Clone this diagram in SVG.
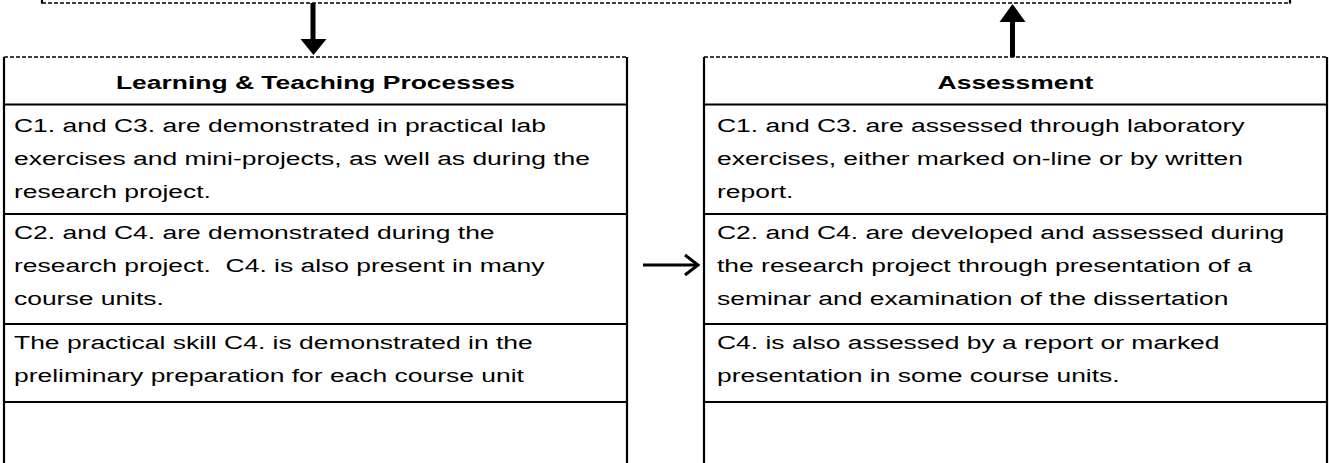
<svg xmlns="http://www.w3.org/2000/svg" width="1329" height="463" viewBox="0 0 1329 463">
<style>
.dash{fill:none;stroke:#000;stroke-width:1.3;stroke-dasharray:4 2}
.solid{fill:none;stroke:#000;stroke-width:2.2}
.t{font-family:"Liberation Sans",Arial,sans-serif;font-size:18px;fill:#000}
.h{font-family:"Liberation Sans",Arial,sans-serif;font-size:18px;font-weight:bold;fill:#000;text-anchor:middle}
</style>
<rect width="1329" height="463" fill="#fff"/>
<g id="top-box">
<line class="dash" x1="42" y1="3" x2="1290" y2="3"/>
<line class="solid" x1="42" y1="0" x2="42" y2="3.6" stroke-width="1.3"/>
<line class="solid" x1="1290" y1="0" x2="1290" y2="3.6" stroke-width="1.3"/>
</g>
<g id="learning-teaching">
<line class="dash" x1="4" y1="57" x2="627" y2="57"/>
<line class="solid" x1="4" y1="57" x2="4" y2="463"/>
<line class="solid" x1="627" y1="57" x2="627" y2="463"/>
<line class="solid" x1="4" y1="104.5" x2="627" y2="104.5"/>
<line class="solid" x1="4" y1="214" x2="627" y2="214"/>
<line class="solid" x1="4" y1="324" x2="627" y2="324"/>
<line class="solid" x1="4" y1="402" x2="627" y2="402"/>
<text class="h" transform="translate(315.5,89) scale(1.47,1)">Learning &amp; Teaching Processes</text>
<text class="t" transform="translate(14,132) scale(1.47,1)">C1. and C3. are demonstrated in practical lab</text>
<text class="t" transform="translate(14,165) scale(1.47,1)">exercises and mini-projects, as well as during the</text>
<text class="t" transform="translate(14,198) scale(1.47,1)">research project.</text>
<text class="t" transform="translate(14,239) scale(1.47,1)">C2. and C4. are demonstrated during the</text>
<text class="t" transform="translate(14,272) scale(1.47,1)" xml:space="preserve">research project.  C4. is also present in many</text>
<text class="t" transform="translate(14,305) scale(1.47,1)">course units.</text>
<text class="t" transform="translate(14,349) scale(1.47,1)">The practical skill C4. is demonstrated in the</text>
<text class="t" transform="translate(14,382) scale(1.47,1)">preliminary preparation for each course unit</text>
</g>
<g id="assessment">
<line class="dash" x1="704" y1="57" x2="1327" y2="57"/>
<line class="solid" x1="704" y1="57" x2="704" y2="463"/>
<line class="solid" x1="1327" y1="57" x2="1327" y2="463"/>
<line class="solid" x1="704" y1="104.5" x2="1327" y2="104.5"/>
<line class="solid" x1="704" y1="214" x2="1327" y2="214"/>
<line class="solid" x1="704" y1="324" x2="1327" y2="324"/>
<line class="solid" x1="704" y1="402" x2="1327" y2="402"/>
<text class="h" transform="translate(1015.5,89) scale(1.47,1)">Assessment</text>
<text class="t" transform="translate(717,132) scale(1.47,1)">C1. and C3. are assessed through laboratory</text>
<text class="t" transform="translate(717,165) scale(1.47,1)">exercises, either marked on-line or by written</text>
<text class="t" transform="translate(717,198) scale(1.47,1)">report.</text>
<text class="t" transform="translate(717,239) scale(1.47,1)">C2. and C4. are developed and assessed during</text>
<text class="t" transform="translate(717,272) scale(1.47,1)">the research project through presentation of a</text>
<text class="t" transform="translate(717,305) scale(1.47,1)">seminar and examination of the dissertation</text>
<text class="t" transform="translate(717,349) scale(1.47,1)">C4. is also assessed by a report or marked</text>
<text class="t" transform="translate(717,382) scale(1.47,1)">presentation in some course units.</text>
</g>
<g id="connectors">
<rect x="310.5" y="3" width="5" height="37" fill="#000"/>
<polygon points="300.5,39 326.5,39 313.5,55" fill="#000"/>
<rect x="1010" y="21" width="5" height="36" fill="#000"/>
<polygon points="999.5,22 1025.5,22 1012.5,4" fill="#000"/>
<line x1="643" y1="265" x2="696" y2="265" stroke="#000" stroke-width="3"/>
<polyline points="685,255 698,265 685,275" fill="none" stroke="#000" stroke-width="3"/>
</g>
</svg>
